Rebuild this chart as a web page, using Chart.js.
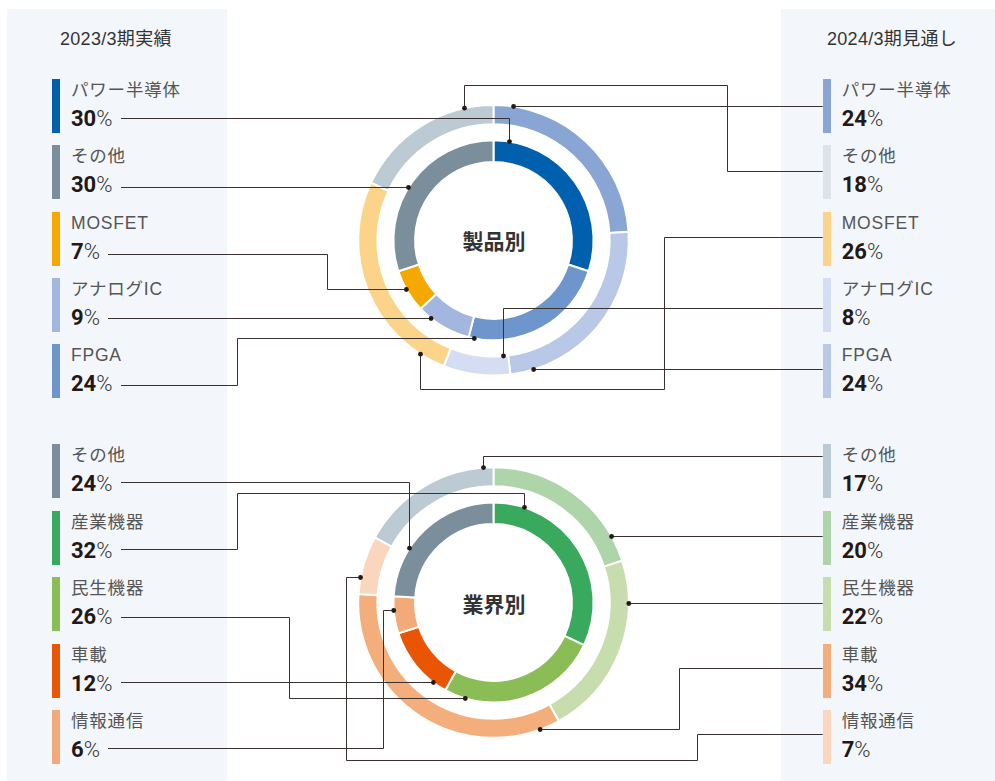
<!DOCTYPE html>
<html lang="ja">
<head>
<meta charset="utf-8">
<script src="https://cdn.jsdelivr.net/npm/chart.js@4.4.1/dist/chart.umd.min.js"></script>
<style>
  body { margin:0; width:995px; height:781px; background:#fff; position:relative; overflow:hidden;
         font-family:"Liberation Sans","Noto Sans CJK JP",sans-serif; }
  .panel { position:absolute; top:9px; bottom:0; background:#f3f7fc; }
  .head { position:absolute; top:29px; font-size:18px; line-height:20px; color:#333; letter-spacing:0.3px; white-space:nowrap; }
  .item { position:absolute; width:150px; height:54px; }
  .bar { position:absolute; left:0; top:0; width:8px; height:54px; }
  .name { position:absolute; left:19px; top:1px; font-size:17.5px; line-height:20px; color:#555; letter-spacing:0.8px; white-space:nowrap; }
  .pct { position:absolute; left:19px; top:28px; font-family:Roboto,sans-serif; font-size:22px; line-height:24px; color:#231815; white-space:nowrap; }
  .pct b { font-weight:700; }
  .pct span { font-weight:300; color:#333; }
  .center { position:absolute; font-family:"Noto Sans CJK JP",sans-serif; font-weight:700; font-size:21px; color:#333;
            transform:translate(-50%,-50%); white-space:nowrap; }
  canvas { position:absolute; left:0; }
</style>
</head>
<body>
<div class="panel" style="left:7px;width:220px"></div>
<div class="panel" style="left:781px;width:214px"></div>
<div class="head" style="left:60px">2023/3期実績</div>
<div class="head" style="left:827px">2024/3期見通し</div>
<div id="legends"></div>
<div class="center" style="left:494px;top:240px">製品別</div>
<div class="center" style="left:494px;top:603px">業界別</div>
<canvas id="productChart"></canvas>
<canvas id="industryChart"></canvas>

<script>
// ring order: clockwise from 12 o'clock
const productLabels = ['パワー半導体', 'FPGA', 'アナログIC', 'MOSFET', 'その他'];
const product2023 = [30, 24, 9, 7, 30];
const product2024 = [24, 24, 8, 26, 18];
const productColors2023 = ['#0060ae', '#6e96cc', '#a2b6de', '#f5a800', '#7a8e9c'];
const productColors2024 = ['#88a5d4', '#b9c8e6', '#d4ddf1', '#fbd48a', '#bccad3'];
const productKey2024 = ['#88a5d4', '#b9c8e6', '#d4ddf1', '#fbd48a', '#dde3e9'];
const productOrder = [0, 4, 3, 2, 1]; // legend order: パワー, その他, MOSFET, アナログ, FPGA

const industryLabels = ['産業機器', '民生機器', '車載', '情報通信', 'その他'];
const industry2023 = [32, 26, 12, 6, 24];
const industry2024 = [20, 22, 34, 7, 17];
const industryColors2023 = ['#38a95d', '#8abd55', '#ea5504', '#f2ab78', '#7a8e9c'];
const industryColors2024 = ['#aed4a9', '#c8ddae', '#f4ae7c', '#f9d6bd', '#bccad3'];
const industryOrder = [4, 0, 1, 2, 3]; // その他, 産業, 民生, 車載, 情報通信

/* leader routes: [y0, x1, y1, x2 ...] orthogonal, last hop goes onto the ring */
const productLeadersLeft  = [[117.5, 509], [186.5], [253.5, 327, 289.3], [318.3], [385, 237, 338]];
const productLeadersRight = [[105.7], [171, 727, 85, 463.5], [237.3, 664, 389.3, 419.5], [308.3, 502.7], [369.3]];
const productInnerEdge = [false, false, false, true, false];
const industryLeadersLeft  = [[481.7, 409], [549, 237, 493, 523.5], [616.7, 289, 698.3], [682.3], [747.7, 383.3, 609.7]];
const industryLeadersRight = [[455.7, 483.3], [536.3], [602.7], [667.7, 679, 729.3], [734.3, 697, 760, 346, 577.3]];

const legendBox = document.getElementById('legends');

function makeLegend(labels, values, colors, order, left, top0, pitch) {
	const spans = [];
	order.forEach((idx, k) => {
		const item = document.createElement('div');
		item.className = 'item';
		item.style.left = left + 'px';
		item.style.top = (top0 + k * pitch) + 'px';
		item.innerHTML = `
			<div class="bar" style="background:${colors[idx]}"></div>
			<div class="name">${labels[idx]}</div>
			<div class="pct"><b>${values[idx]}</b><span>%</span></div>`;
		legendBox.appendChild(item);
		spans.push(item);
	});
	return spans;
}

const pL = makeLegend(productLabels, product2023, productColors2023, productOrder, 52, 79, 66.3);
const pR = makeLegend(productLabels, product2024, productKey2024, productOrder, 822.7, 79, 66.3);
const iL = makeLegend(industryLabels, industry2023, industryColors2023, industryOrder, 52, 444, 66.5);
const iR = makeLegend(industryLabels, industry2024, industryColors2024, industryOrder, 822.7, 444, 66.5);

// point on the ring edge at a given y (or x), on the side nearest the previous waypoint
function arcPoint(arc, mode, v, inner, from) {
	const p = arc.getProps(['x', 'y', 'innerRadius', 'outerRadius'], true);
	const r = inner ? p.innerRadius : p.outerRadius;
	let cands;
	if (mode === 'y') {
		const a = Math.asin(Math.max(-1, Math.min(1, (v - p.y) / r)));
		cands = [a, Math.PI - a];
	} else {
		const a = Math.acos(Math.max(-1, Math.min(1, (v - p.x) / r)));
		cands = [a, -a];
	}
	const pts = cands.map(a => ({ x: p.x + r * Math.cos(a), y: p.y + r * Math.sin(a) }));
	pts.sort((a, b) => Math.hypot(a.x - from[0], a.y - from[1]) - Math.hypot(b.x - from[0], b.y - from[1]));
	return pts[0];
}

function leaderPlugin(offsetY, order, leftItems, rightItems, leftRoutes, rightRoutes, innerEdge) {
	return {
		id: 'leaders',
		afterDraw(chart) {
			const ctx = chart.ctx;
			const px = v => Math.round(v) + 0.5;
			const drawOne = (startX, route, dsIndex, seg, inner) => {
				const pts = [];
				let x = startX, y = px(route[0] - offsetY);
				pts.push([x, y]);
				for (let i = 1; i < route.length; i++) {
					if (i % 2 === 1) x = px(route[i]); else y = px(route[i] - offsetY);
					pts.push([x, y]);
				}
				const arc = chart.getDatasetMeta(dsIndex).data[seg];
				const horiz = route.length % 2 === 1;
				const dot = arcPoint(arc, horiz ? 'y' : 'x', horiz ? y : x, inner, pts[pts.length - 1]);
				if (horiz) dot.y = y; else dot.x = x;
				pts.push([dot.x, dot.y]);
				ctx.save();
				ctx.strokeStyle = '#3a3030';
				ctx.lineWidth = 1;
				ctx.beginPath();
				pts.forEach(([a, b], i) => i ? ctx.lineTo(a, b) : ctx.moveTo(a, b));
				ctx.stroke();
				ctx.fillStyle = '#231815';
				ctx.beginPath();
				ctx.arc(dot.x, dot.y, 2.4, 0, Math.PI * 2);
				ctx.fill();
				ctx.restore();
			};
			order.forEach((seg, k) => {
				const pct = leftItems[k].querySelector('.pct').getBoundingClientRect();
				drawOne(Math.round(pct.right + 8), leftRoutes[k], 2, seg, false);
				const barX = rightItems[k].getBoundingClientRect().left;
				drawOne(barX, rightRoutes[k], 0, seg, innerEdge ? innerEdge[k] : false);
			});
		}
	};
}

function makeChart(id, top, height, labels, d2023, d2024, c2023, c2024, plugin) {
	const cv = document.getElementById(id);
	cv.width = 995;
	cv.height = height;
	cv.style.top = top + 'px';
	const cx = 493.5, cy = (id === 'productChart' ? 240.3 : 602.5) - top, R = 136.3;
	return new Chart(cv, {
		type: 'doughnut',
		data: {
			labels: labels,
			datasets: [
				{ data: d2024, backgroundColor: c2024, borderColor: '#fff', borderWidth: 2, weight: 19.3 },
				{ data: [1], backgroundColor: 'rgba(0,0,0,0)', borderWidth: 0, weight: 16.2 },
				{ data: d2023, backgroundColor: c2023, borderColor: '#fff', borderWidth: 2, weight: 21.8 }
			]
		},
		options: {
			responsive: false,
			animation: false,
			events: [],
			cutout: '57.96%',
			layout: { padding: { left: cx - R, right: 995 - cx - R, top: cy - R, bottom: height - cy - R } },
			plugins: { legend: { display: false }, tooltip: { enabled: false } }
		},
		plugins: [plugin]
	});
}

makeChart('productChart', 0, 420, productLabels, product2023, product2024, productColors2023, productColors2024,
	leaderPlugin(0, productOrder, pL, pR, productLeadersLeft, productLeadersRight, productInnerEdge));
makeChart('industryChart', 420, 361, industryLabels, industry2023, industry2024, industryColors2023, industryColors2024,
	leaderPlugin(420, industryOrder, iL, iR, industryLeadersLeft, industryLeadersRight, null));
</script>
</body>
</html>
